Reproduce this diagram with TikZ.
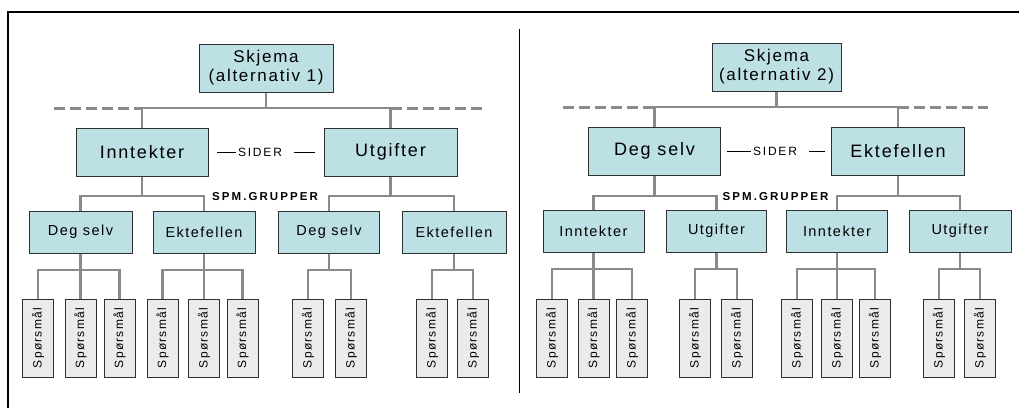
\documentclass[tikz,border=0pt]{standalone}
\usepackage{fontspec}
\usepackage{graphicx}
\setmainfont{Liberation Sans}
\newfontfamily\lsA[LetterSpace=10]{Liberation Sans}
\newfontfamily\lsB[LetterSpace=15]{Liberation Sans}
\newfontfamily\lsC[LetterSpace=18]{Liberation Sans}
\newfontfamily\lsD[LetterSpace=11]{Liberation Sans}
\definecolor{boxfill}{HTML}{BCE0E4}
\definecolor{leaffill}{HTML}{EBEBEB}
\definecolor{conncol}{HTML}{8A8A8A}
\definecolor{edgecol}{HTML}{303030}
\tikzset{
  topbox/.style={draw=edgecol, fill=boxfill, line width=1pt, inner sep=0pt, align=center,
    minimum height=48pt, font=\lsA\fontsize{18}{20}\selectfont},
  headbox/.style={topbox, font=\lsA\fontsize{17}{19}\selectfont},
  midbox/.style={draw=edgecol, fill=boxfill, line width=1pt, inner sep=0pt,
    minimum height=42pt, font=\lsA\fontsize{14.5}{16}\selectfont},
  leafbox/.style={draw=edgecol, fill=leaffill, line width=1pt, inner sep=0pt,
    minimum width=31pt, minimum height=78pt, font=\lsD\fontsize{12}{14}\selectfont},
  conn/.style={draw=conncol, line width=2.2pt},
  busdash/.style={draw=conncol, line width=3pt, dash pattern=on 11pt off 5pt},
  sidertext/.style={inner sep=0pt, font=\lsB\fontsize{12}{14}\selectfont},
  grptext/.style={inner sep=0pt, font=\lsC\bfseries\fontsize{11.5}{13}\selectfont},
  frameline/.style={draw=black, line width=1.6pt},
  sepline/.style={draw=black, line width=1pt}
}
\begin{document}
\begin{tikzpicture}[x=1pt,y=-1pt]
\useasboundingbox (0,0) rectangle (1019,408);
% frame
\coordinate (fA) at (8,408);
\coordinate (fB) at (8,12);
\coordinate (fC) at (1019,12);
\draw[frameline] (fA) -- (fB) -- (fC);
\coordinate (sT) at (519,29);
\coordinate (sB) at (519,393);
\draw[sepline] (sT) -- (sB);

% ================= LEFT =================
\node[headbox, minimum width=134pt] (S1) at (266,68) {Skjema\\(alternativ 1)};
\node[topbox, minimum width=132pt] (I1) at (142,152) {Inntekter};
\node[topbox, minimum width=133pt] (U1) at (390.5,152) {Utgifter};
\node[midbox, minimum width=103pt] (D1a) at (80.5,232) {Deg selv};
\node[midbox, minimum width=102pt] (E1a) at (204,232) {Ektefellen};
\node[midbox, minimum width=101pt] (D1b) at (329,232) {Deg selv};
\node[midbox, minimum width=104pt] (E1b) at (454,232) {Ektefellen};
\foreach \n/\x in {La1/38, La2/80.5, La3/119.5, Lb1/162.5, Lb2/204, Lb3/242.5, Lc1/308, Lc2/351, Ld1/432, Ld2/473}
  \node[leafbox] (\n) at (\x,338) {\rotatebox{90}{Spørsmål}};

\node[sidertext] (sd1) at (260,152) {SIDER};
\coordinate (sd1a) at (217,152);
\coordinate (sd1b) at (315,152);
\draw[line width=0.9pt] (sd1a) -- ([xshift=-2pt]sd1.west);
\draw[line width=0.9pt] ([xshift=12pt]sd1.east) -- (sd1b);
\node[grptext] (gp1) at (265,197) {SPM.GRUPPER};

\coordinate (b1) at (266,108);
\coordinate (dl1) at (54,108);
\coordinate (dr1) at (482,108);
\draw[busdash] (dl1) -- (I1.north |- b1);
\draw[busdash] (U1.north |- b1) -- (dr1);
\draw[conn] (S1.south) -- (b1);
\draw[conn] (I1.north) |- (b1) -| (U1.north);

\coordinate (g1) at (0,196);
\draw[conn] (I1.south) -- (I1.south |- g1);
\draw[conn] (D1a.north) |- (I1.south |- g1) -| (E1a.north);
\draw[conn] (U1.south) -- (U1.south |- g1);
\draw[conn] (D1b.north) |- (U1.south |- g1) -| (E1b.north);

\coordinate (l1) at (0,270);
\draw[conn] (D1a.south) -- (La2.north);
\draw[conn] (La1.north) |- (D1a.south |- l1) -| (La3.north);
\draw[conn] (E1a.south) -- (Lb2.north);
\draw[conn] (Lb1.north) |- (E1a.south |- l1) -| (Lb3.north);
\draw[conn] (D1b.south) -- (D1b.south |- l1);
\draw[conn] (Lc1.north) |- (D1b.south |- l1) -| (Lc2.north);
\draw[conn] (E1b.south) -- (E1b.south |- l1);
\draw[conn] (Ld1.north) |- (E1b.south |- l1) -| (Ld2.north);

% ================= RIGHT =================
\node[headbox, minimum width=129pt] (S2) at (776.5,67) {Skjema\\(alternativ 2)};
\node[topbox, minimum width=132pt] (D2) at (654.5,151) {Deg selv};
\node[topbox, minimum width=133pt] (E2) at (898,151) {Ektefellen};
\node[midbox, minimum width=101pt] (I2a) at (593.5,231) {Inntekter};
\node[midbox, minimum width=100pt] (U2a) at (716.5,231) {Utgifter};
\node[midbox, minimum width=101pt] (I2b) at (837,231) {Inntekter};
\node[midbox, minimum width=102pt] (U2b) at (960,231) {Utgifter};
\foreach \n/\x in {Le1/552, Le2/593.5, Le3/632, Lf1/695, Lf2/737, Lg1/797, Lg2/837, Lg3/875, Lh1/939, Lh2/980}
  \node[leafbox] (\n) at (\x,338) {\rotatebox{90}{Spørsmål}};

\node[sidertext] (sd2) at (775,151) {SIDER};
\coordinate (sd2a) at (727,151);
\coordinate (sd2b) at (825,151);
\draw[line width=0.9pt] (sd2a) -- ([xshift=-2pt]sd2.west);
\draw[line width=0.9pt] ([xshift=12pt]sd2.east) -- (sd2b);
\node[grptext] (gp2) at (775.5,197) {SPM.GRUPPER};

\coordinate (b2) at (776.5,107);
\coordinate (dl2) at (563,107);
\coordinate (dr2) at (988,107);
\draw[busdash] (dl2) -- (D2.north |- b2);
\draw[busdash] (E2.north |- b2) -- (dr2);
\draw[conn] (S2.south) -- (b2);
\draw[conn] (D2.north) |- (b2) -| (E2.north);

\coordinate (g2) at (0,196);
\draw[conn] (D2.south) -- (D2.south |- g2);
\draw[conn] (I2a.north) |- (D2.south |- g2) -| (U2a.north);
\draw[conn] (E2.south) -- (E2.south |- g2);
\draw[conn] (I2b.north) |- (E2.south |- g2) -| (U2b.north);

\coordinate (l2) at (0,269);
\draw[conn] (I2a.south) -- (Le2.north);
\draw[conn] (Le1.north) |- (I2a.south |- l2) -| (Le3.north);
\draw[conn] (U2a.south) -- (U2a.south |- l2);
\draw[conn] (Lf1.north) |- (U2a.south |- l2) -| (Lf2.north);
\draw[conn] (I2b.south) -- (Lg2.north);
\draw[conn] (Lg1.north) |- (I2b.south |- l2) -| (Lg3.north);
\draw[conn] (U2b.south) -- (U2b.south |- l2);
\draw[conn] (Lh1.north) |- (U2b.south |- l2) -| (Lh2.north);
\end{tikzpicture}
\end{document}
